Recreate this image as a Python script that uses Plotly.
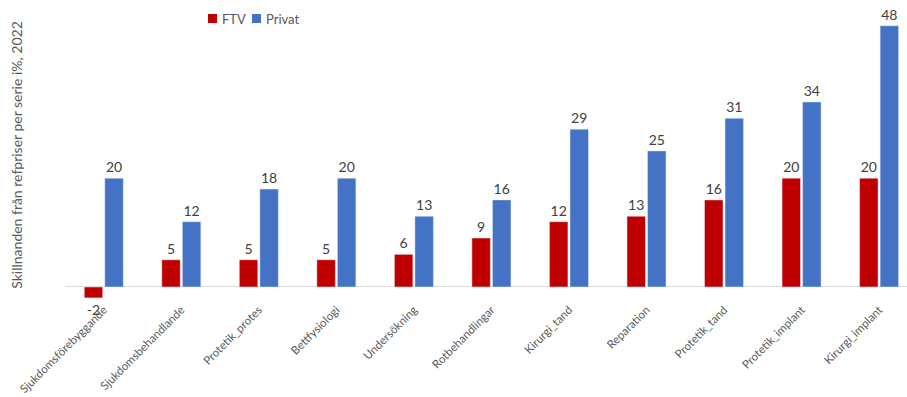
import plotly.graph_objects as go

categories = ["Sjukdomsförebyggande", "Sjukdomsbehandlande", "Protetik_protes", "Bettfysiologi",
              "Undersökning", "Rotbehandlingar", "Kirurgi_tand", "Reparation",
              "Protetik_tand", "Protetik_implant", "Kirurgi_implant"]
ftv = [-2, 5, 5, 5, 6, 9, 12, 13, 16, 20, 20]
privat = [20, 12, 18, 20, 13, 16, 29, 25, 31, 34, 48]
series_names = ["FTV", "Privat"]
series_colors = ["#C00000", "#4472C4"]

FONT = "Lato"
label_font = dict(family=FONT, size=14, color="#404040")

fig = go.Figure()
for name, vals, col in zip(series_names, [ftv, privat], series_colors):
    fig.add_trace(go.Bar(name=name, x=categories, y=vals, marker_color=col,
                         text=[str(v) for v in vals], textposition="outside",
                         textfont=label_font, cliponaxis=False))

# Legend drawn as small swatches + labels along the top of the plot
L, T, W, H = 65, 10, 842, 290


def px_x(p):
    return (p - L) / W


def px_y(p):
    return (T + H - p) / H


swatch_x = [208, 252]
for sx, name, col in zip(swatch_x, series_names, series_colors):
    fig.add_shape(type="rect", xref="paper", yref="paper",
                  x0=px_x(sx), x1=px_x(sx + 9), y0=px_y(23), y1=px_y(14),
                  fillcolor=col, line_width=0)
    fig.add_annotation(xref="paper", yref="paper", x=px_x(sx + 12), y=px_y(19),
                       text=name, showarrow=False, xanchor="left", yanchor="middle",
                       font=dict(family=FONT, size=13, color="#595959"))

fig.update_layout(
    width=907, height=397,
    margin=dict(l=L, r=0, t=T, b=397 - T - H),
    paper_bgcolor="white", plot_bgcolor="white",
    barmode="group", bargap=0.47, bargroupgap=0.1,
    font=dict(family=FONT, color="#595959"),
    showlegend=False,
    xaxis=dict(range=[-0.5, 10.36], tickangle=-45, showgrid=False, showline=False,
               ticks="", tickfont=dict(size=11.5, color="#595959"), automargin=False),
    yaxis=dict(range=[-2.39, 50.9], showgrid=False, showticklabels=False,
               zeroline=True, zerolinecolor="#D9D9D9", zerolinewidth=1,
               automargin=False,
               title=dict(text="Skillnanden från refpriser per serie i%, 2022",
                          font=dict(size=14, color="#595959"), standoff=38)),
)

fig.write_html("out.html")
